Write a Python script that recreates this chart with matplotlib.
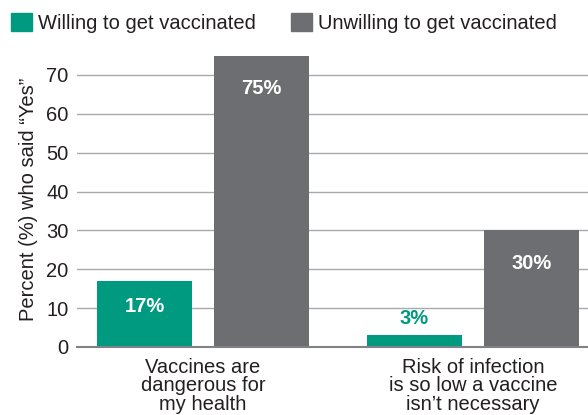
import numpy as np
import matplotlib.pyplot as plt
from matplotlib.patches import Patch

plt.rcParams['font.family'] = ['Liberation Sans', 'DejaVu Sans']

categories = ['Vaccines are\ndangerous for\nmy health', 'Risk of infection\nis so low a vaccine\nisn\u2019t necessary']
willing = [17, 3]
unwilling = [75, 30]
series_names = ['Willing to get vaccinated', 'Unwilling to get vaccinated']
yticks = [0, 10, 20, 30, 40, 50, 60, 70]

green = '#009A80'
gray = '#6D6E71'
txt = '#231F20'
fs = 14.5

fig = plt.figure(figsize=(5.88, 4.15), dpi=100)
ax = fig.add_axes([0.131, 0.164, 0.869, 0.7116])

x = np.arange(len(categories))
w = 0.352
off = 0.217
ax.bar(x - off, willing, w, color=green, zorder=3)
ax.bar(x + off, unwilling, w, color=gray, zorder=3)

ax.set_xlim(-0.467, 1.426)
ax.set_ylim(0, 76)
ax.set_yticks(yticks)
ax.tick_params(axis='y', length=0, pad=6, labelsize=fs, labelcolor=txt)
ax.tick_params(axis='x', length=0, pad=8, labelsize=fs, labelcolor=txt)
ax.set_xticks(x)
ax.set_xticklabels(categories, linespacing=0.95)
ax.yaxis.grid(True, color='#A7A9AC', linewidth=1, zorder=0)
for s in ['top', 'right', 'left']:
    ax.spines[s].set_visible(False)
ax.spines['bottom'].set_color('#808285')
ax.spines['bottom'].set_linewidth(1.5)
ax.spines['bottom'].set_zorder(4)
ax.set_ylabel('Percent (%) who said \u201cYes\u201d', fontsize=fs, color=txt, labelpad=6)

# value labels
for xi, v in zip(x - off, willing):
    if v > 10:
        ax.text(xi, v - 6.7, f'{v}%', ha='center', va='center', color='white',
                fontsize=fs, fontweight='bold', zorder=5)
    else:
        ax.text(xi, v + 4.2, f'{v}%', ha='center', va='center', color=green,
                fontsize=fs, fontweight='bold', zorder=5)
for xi, v in zip(x + off, unwilling):
    ax.text(xi, v - 8.4, f'{v}%', ha='center', va='center', color='white',
            fontsize=fs, fontweight='bold', zorder=5)

handles = [Patch(color=green), Patch(color=gray)]
fig.legend(handles, series_names, loc='upper left', bbox_to_anchor=(11 / 588, 1 - 13 / 415),
           ncol=2, frameon=False, fontsize=14.5, handlelength=1.05, handleheight=1.0,
           handletextpad=0.3, columnspacing=1.75, labelcolor=txt,
           borderpad=0, borderaxespad=0)

fig.savefig('out.png', dpi=100, facecolor='white')
